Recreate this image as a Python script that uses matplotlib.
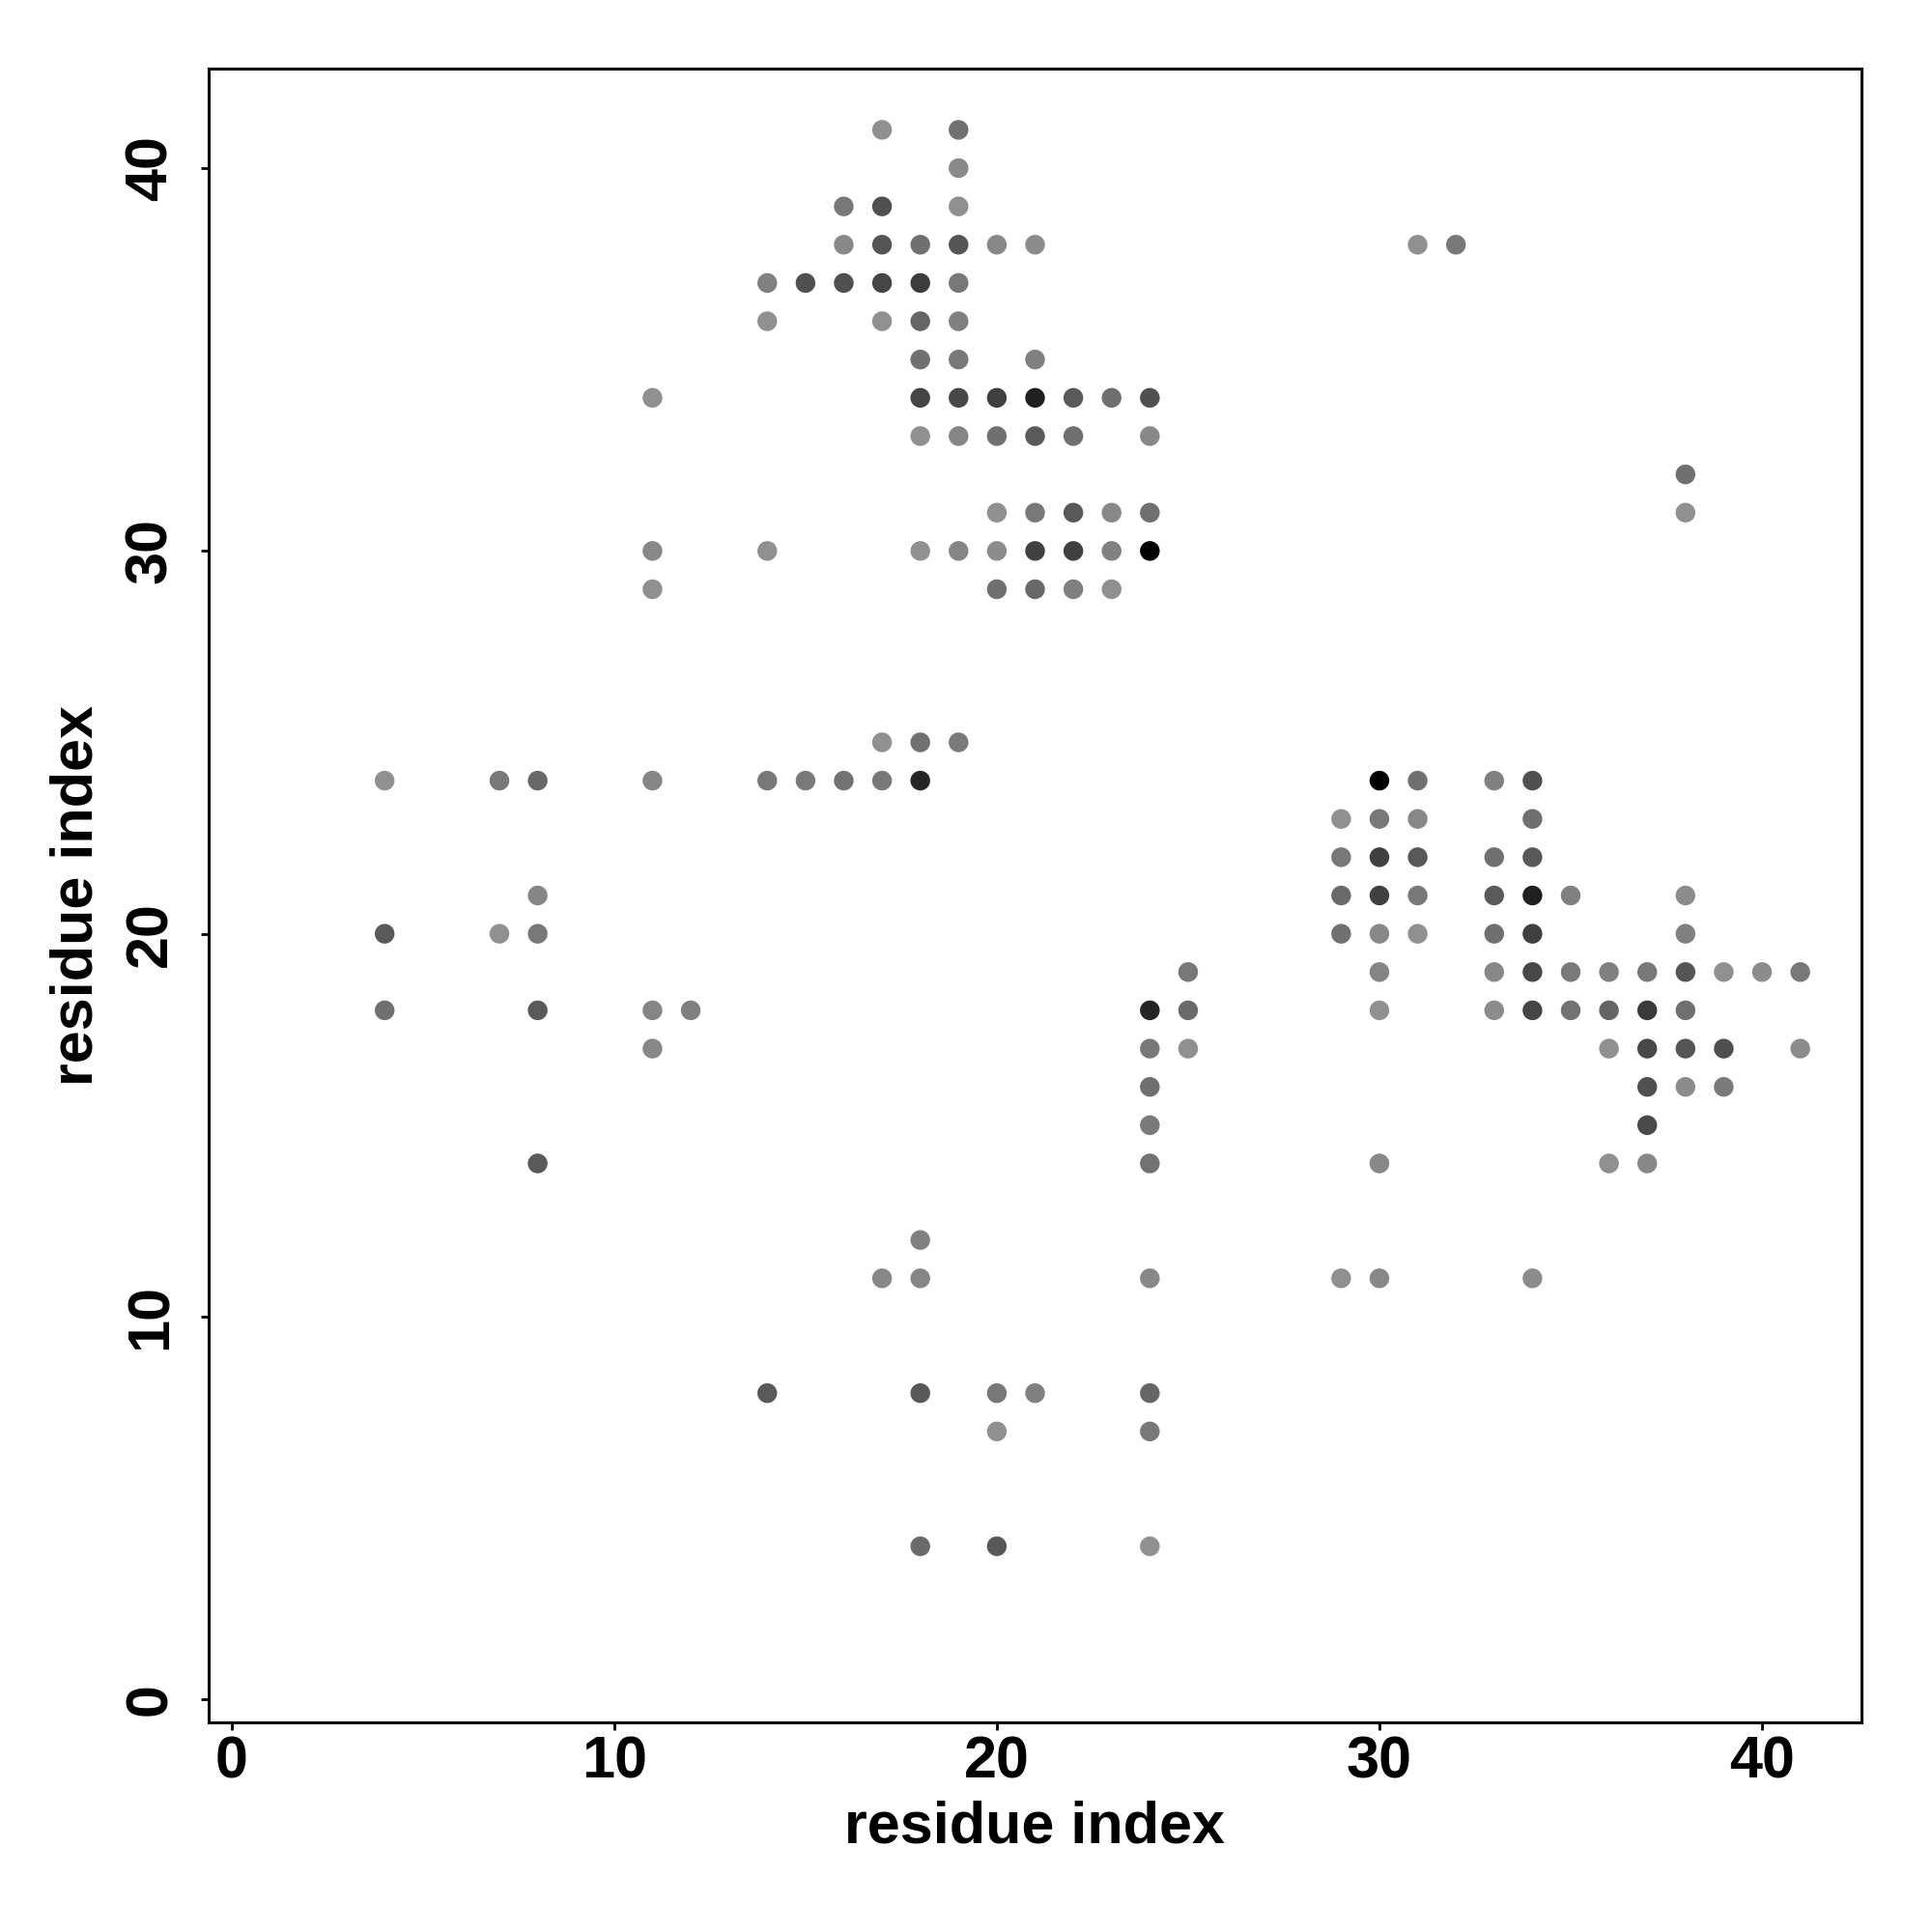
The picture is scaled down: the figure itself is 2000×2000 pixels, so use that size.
import matplotlib
matplotlib.use("Agg")
import matplotlib.pyplot as plt

# contact map: residue pairs (i, j) and grey level of each dot (0 = black, 255 = white)
res_i = [17, 19,
         19,
         16, 17, 19,
         16, 17, 18, 19, 20, 21, 31, 32,
         14, 15, 16, 17, 18, 19,
         14, 17, 18, 19,
         18, 19, 21,
         11, 18, 19, 20, 21, 22, 23, 24,
         18, 19, 20, 21, 22, 24,
         38,
         20, 21, 22, 23, 24, 38,
         11, 14, 18, 19, 20, 21, 22, 23, 24,
         11, 20, 21, 22, 23,
         17, 18, 19,
         4, 7, 8, 11, 14, 15, 16, 17, 18, 30, 31, 33, 34,
         29, 30, 31, 34,
         29, 30, 31, 33, 34,
         8, 29, 30, 31, 33, 34, 35, 38,
         4, 7, 8, 29, 30, 31, 33, 34, 38,
         25, 30, 33, 34, 35, 36, 37, 38, 39, 40, 41,
         4, 8, 11, 12, 24, 25, 30, 33, 34, 35, 36, 37, 38,
         11, 24, 25, 36, 37, 38, 39, 41,
         24, 37, 38, 39,
         24, 37,
         8, 24, 30, 36, 37,
         18,
         17, 18, 24, 29, 30, 34,
         14, 18, 20, 21, 24,
         20, 24,
         18, 20, 24]
res_j = [41, 41,
         40,
         39, 39, 39,
         38, 38, 38, 38, 38, 38, 38, 38,
         37, 37, 37, 37, 37, 37,
         36, 36, 36, 36,
         35, 35, 35,
         34, 34, 34, 34, 34, 34, 34, 34,
         33, 33, 33, 33, 33, 33,
         32,
         31, 31, 31, 31, 31, 31,
         30, 30, 30, 30, 30, 30, 30, 30, 30,
         29, 29, 29, 29, 29,
         25, 25, 25,
         24, 24, 24, 24, 24, 24, 24, 24, 24, 24, 24, 24, 24,
         23, 23, 23, 23,
         22, 22, 22, 22, 22,
         21, 21, 21, 21, 21, 21, 21, 21,
         20, 20, 20, 20, 20, 20, 20, 20, 20,
         19, 19, 19, 19, 19, 19, 19, 19, 19, 19, 19,
         18, 18, 18, 18, 18, 18, 18, 18, 18, 18, 18, 18, 18,
         17, 17, 17, 17, 17, 17, 17, 17,
         16, 16, 16, 16,
         15, 15,
         14, 14, 14, 14, 14,
         12,
         11, 11, 11, 11, 11, 11,
         8, 8, 8, 8, 8,
         7, 7,
         4, 4, 4]
grey = [0x90, 0x70,
        0x8a,
        0x78, 0x50, 0x90,
        0x88, 0x55, 0x70, 0x55, 0x88, 0x8c, 0x90, 0x78,
        0x80, 0x50, 0x50, 0x45, 0x3c, 0x78,
        0x90, 0x90, 0x65, 0x80,
        0x70, 0x78, 0x80,
        0x90, 0x45, 0x48, 0x40, 0x20, 0x5a, 0x70, 0x50,
        0x90, 0x85, 0x70, 0x5a, 0x70, 0x88,
        0x70,
        0x90, 0x78, 0x58, 0x88, 0x70, 0x90,
        0x88, 0x90, 0x90, 0x85, 0x8c, 0x40, 0x40, 0x80, 0x00,
        0x90, 0x70, 0x68, 0x80, 0x90,
        0x90, 0x70, 0x7a,
        0x90, 0x78, 0x68, 0x85, 0x78, 0x7a, 0x72, 0x78, 0x25, 0x00, 0x70, 0x80, 0x50,
        0x90, 0x78, 0x88, 0x70,
        0x78, 0x40, 0x58, 0x70, 0x58,
        0x85, 0x6a, 0x40, 0x78, 0x5a, 0x20, 0x80, 0x8c,
        0x5a, 0x90, 0x78, 0x70, 0x88, 0x90, 0x70, 0x40, 0x80,
        0x78, 0x85, 0x88, 0x48, 0x7a, 0x80, 0x78, 0x55, 0x90, 0x8c, 0x78,
        0x70, 0x5a, 0x85, 0x80, 0x25, 0x6a, 0x90, 0x8c, 0x45, 0x72, 0x65, 0x3a, 0x70,
        0x88, 0x78, 0x90, 0x90, 0x48, 0x55, 0x50, 0x8c,
        0x70, 0x50, 0x8c, 0x7a,
        0x7a, 0x4a,
        0x5a, 0x72, 0x88, 0x90, 0x88,
        0x80,
        0x88, 0x85, 0x88, 0x90, 0x88, 0x8c,
        0x5a, 0x58, 0x78, 0x80, 0x65,
        0x90, 0x78,
        0x6a, 0x58, 0x90]

ticks = [0, 10, 20, 30, 40]

plt.rcParams.update({"font.family": ["Liberation Sans", "DejaVu Sans"], "font.weight": "bold"})

fig = plt.figure(figsize=(10, 10), dpi=200)
ax = fig.add_axes([0.108, 0.1085, 0.8555, 0.856])

ax.scatter(res_i, res_j, c=grey, cmap="gray", vmin=0, vmax=255, s=54, linewidths=0)

ax.set_xlim(-0.6, 42.6)
ax.set_ylim(-0.6, 42.6)
ax.set_xticks(ticks)
ax.set_yticks(ticks)
ax.set_xticklabels([str(t) for t in ticks], fontsize=22, fontweight="bold")
ax.set_yticklabels([str(t) for t in ticks], fontsize=22, fontweight="bold", rotation=90, va="center")
ax.tick_params(direction="out", length=3, width=1.0)
ax.tick_params(axis="x", pad=2)
ax.tick_params(axis="y", pad=8)

for s in ax.spines.values():
    s.set_linewidth(1.1)

ax.set_xlabel("residue index", fontsize=22, fontweight="bold", va="center")
ax.xaxis.set_label_coords(0.5, -0.0637)
ax.set_ylabel("residue index", fontsize=22, fontweight="bold", va="center")
ax.yaxis.set_label_coords(-0.0795, 0.5)

fig.savefig("out.png", dpi=200, facecolor="white")
